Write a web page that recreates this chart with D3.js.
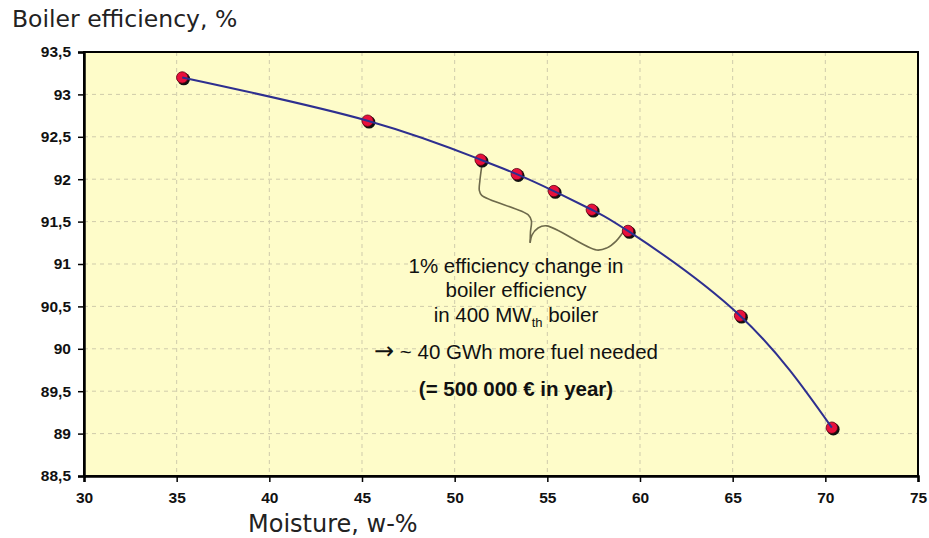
<!DOCTYPE html>
<html>
<head>
<meta charset="utf-8">
<script src="https://cdn.jsdelivr.net/npm/d3@7"></script>
<style>
  html, body { margin: 0; padding: 0; background: #ffffff; }
  svg { display: block; }
</style>
</head>
<body>
<svg id="chart" width="929" height="538"></svg>
<script>
// ---- Data ----
const moisture   = [35.3, 45.3, 51.4, 53.35, 55.35, 57.4, 59.35, 65.4, 70.35];
const efficiency = [93.2, 92.69, 92.23, 92.06, 91.86, 91.64, 91.39, 90.39, 89.07];
const xTicks = [30, 35, 40, 45, 50, 55, 60, 65, 70, 75];
const yTicks = [88.5, 89, 89.5, 90, 90.5, 91, 91.5, 92, 92.5, 93, 93.5];
const titleY = "Boiler efficiency, %";
const titleX = "Moisture, w-%";
// Brace annotation (data coordinates)
const braceLeft  = [[51.46, 92.15], [51.36, 91.98], [51.33, 91.87], [51.46, 91.81], [53.97, 91.58], [54.14, 91.51], [54.09, 91.38], [54.07, 91.25]];
const braceRight = [[54.07, 91.25], [54.17, 91.34], [54.5, 91.425], [54.97, 91.45], [57.66, 91.165], [58.22, 91.19], [58.71, 91.27], [59.1, 91.38]];
const noteLines = ["1% efficiency change in", "boiler efficiency", "in 400 MW|th| boiler"];
const noteArrow = "\u2192";
const noteFuel = " ~ 40 GWh more fuel needed";
const noteCost = "(= 500 000 \u20ac in year)";

(function () {
// ---- Layout ----
const svg = d3.select("#chart");
const pLeft = 84, pRight = 918, pTop = 52, pBottom = 476;

const x = d3.scaleLinear().domain([30, 75]).range([pLeft, pRight]);
const y = d3.scaleLinear().domain([88.5, 93.5]).range([pBottom, pTop]);

// plot background
svg.append("rect")
  .attr("x", pLeft).attr("y", pTop)
  .attr("width", pRight - pLeft).attr("height", pBottom - pTop)
  .attr("fill", "#fefcc9");

// grid
const grid = svg.append("g");
grid.selectAll("line.v").data(xTicks.slice(1, -1)).join("line").attr("class", "v")
  .attr("x1", d => x(d)).attr("x2", d => x(d))
  .attr("y1", pTop).attr("y2", pBottom)
  .attr("stroke", "#cfcbab").attr("stroke-width", 1)
  .attr("stroke-dasharray", "4,4");
grid.selectAll("line.h").data(yTicks.slice(1, -1)).join("line").attr("class", "h")
  .attr("y1", d => y(d)).attr("y2", d => y(d))
  .attr("x1", pLeft).attr("x2", pRight)
  .attr("stroke", "#cfcbab").attr("stroke-width", 1)
  .attr("stroke-dasharray", "4,4");

// border
svg.append("rect")
  .attr("x", pLeft).attr("y", pTop)
  .attr("width", pRight - pLeft).attr("height", pBottom - pTop)
  .attr("fill", "none").attr("stroke", "#000").attr("stroke-width", 2);

// axes
const xAxis = svg.append("g")
  .attr("transform", `translate(0,${pBottom})`)
  .call(d3.axisBottom(x).tickValues(xTicks).tickSize(6).tickPadding(10).tickFormat(d3.format("d")));
const yAxis = svg.append("g")
  .attr("transform", `translate(${pLeft},0)`)
  .call(d3.axisLeft(y).tickValues(yTicks).tickSize(6).tickPadding(7)
    .tickFormat(d => (Number.isInteger(d) ? String(d) : String(d).replace(".", ","))));
[xAxis, yAxis].forEach(a => {
  a.select(".domain").attr("stroke", "#000").attr("stroke-width", 2.5);
  a.selectAll(".tick line").attr("stroke", "#000").attr("stroke-width", 1.5);
  a.selectAll(".tick text")
    .attr("font-family", "Liberation Sans, Arial, sans-serif")
    .attr("font-size", 15.5).attr("font-weight", "bold").attr("fill", "#111");
});

// brace
const braceLine = d3.line().x(d => x(d[0])).y(d => y(d[1])).curve(d3.curveCatmullRom.alpha(0.5));
[braceLeft, braceRight].forEach(b => {
  svg.append("path").attr("d", braceLine(b))
    .attr("fill", "none").attr("stroke", "#6e6a4c").attr("stroke-width", 1.6);
});

// markers
const pts = moisture.map((m, i) => [m, efficiency[i]]);
svg.append("g").selectAll("circle").data(pts).join("circle")
  .attr("cx", d => x(d[0]) + 1.5).attr("cy", d => y(d[1]) + 1.5).attr("r", 6.3)
  .attr("fill", "#111");
svg.append("g").selectAll("circle").data(pts).join("circle")
  .attr("cx", d => x(d[0])).attr("cy", d => y(d[1])).attr("r", 5.7)
  .attr("fill", "#e8103c").attr("stroke", "#5a0010").attr("stroke-width", 0.8);

// curve
const line = d3.line().x(d => x(d[0])).y(d => y(d[1])).curve(d3.curveNatural);
svg.append("path").attr("d", line(pts))
  .attr("fill", "none").attr("stroke", "#2e2f8f").attr("stroke-width", 2);

// annotation text
const cx = 516;
const noteFont = "Liberation Sans, Arial, sans-serif";
const baselines = [273, 297, 322];
noteLines.forEach((t, i) => {
  const txt = svg.append("text").attr("x", cx).attr("y", baselines[i])
    .attr("text-anchor", "middle").attr("font-family", noteFont)
    .attr("font-size", 20.5).attr("fill", "#111");
  const parts = t.split("|");
  parts.forEach((p, j) => {
    const ts = txt.append("tspan").attr("fill", "#111").text(p);
    if (j === 1) ts.attr("font-size", 13).attr("dy", 5);
    if (j === 2) ts.attr("dy", -5);
  });
});
const fuel = svg.append("text").attr("x", cx).attr("y", 359)
  .attr("text-anchor", "middle").attr("font-family", noteFont)
  .attr("font-size", 20.5).attr("fill", "#111");
fuel.append("tspan").attr("font-family", "DejaVu Sans, sans-serif").attr("font-size", 24).text(noteArrow);
fuel.append("tspan").text(noteFuel);
svg.append("text").attr("x", cx).attr("y", 396)
  .attr("text-anchor", "middle").attr("font-family", noteFont)
  .attr("font-size", 20.5).attr("font-weight", "bold").attr("fill", "#111").text(noteCost);

// titles
svg.append("text").attr("x", 12).attr("y", 27)
  .attr("font-family", "DejaVu Sans, Verdana, sans-serif").attr("font-size", 23.5)
  .attr("fill", "#222").text(titleY);
svg.append("text").attr("x", 248).attr("y", 532)
  .attr("font-family", "DejaVu Sans, Verdana, sans-serif").attr("font-size", 24)
  .attr("fill", "#222").text(titleX);
})();
</script>
</body>
</html>
